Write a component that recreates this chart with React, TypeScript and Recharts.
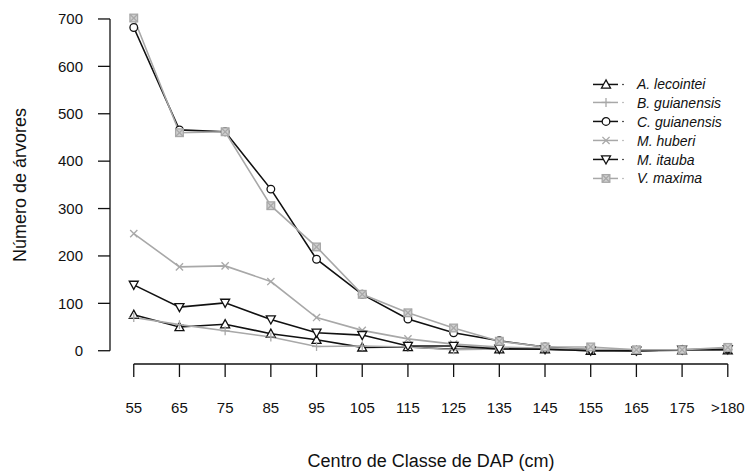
import { LineChart, Line, XAxis, YAxis, ReferenceLine, Legend, Label } from 'recharts';

const classes = ['55', '65', '75', '85', '95', '105', '115', '125', '135', '145', '155', '165', '175', '>180'];

const aLecointei = [76, 50, 56, 36, 23, 7, 8, 3, 3, 3, 0, 0, 1, 1];
const bGuianensis = [70, 55, 42, 29, 9, 10, 8, 2, 4, 3, 0, 0, 1, 2];
const cGuianensis = [682, 466, 462, 341, 193, 119, 67, 38, 21, 8, 2, 0, 2, 3];
const mHuberi = [247, 177, 179, 146, 70, 43, 25, 14, 8, 5, 3, 2, 2, 4];
const mItauba = [139, 92, 101, 66, 38, 33, 10, 10, 4, 3, 0, 0, 2, 3];
const vMaxima = [702, 460, 462, 306, 219, 119, 80, 48, 20, 8, 8, 2, 2, 7];

const yTicks = [0, 100, 200, 300, 400, 500, 600, 700];

const BLACK = '#111';
const GRAY = '#a8a8a8';
const FONT = '"Liberation Sans", Arial, sans-serif';

type Shape = 'triUp' | 'plus' | 'circle' | 'cross' | 'triDown' | 'boxX';

const series: { key: string; name: string; values: number[]; color: string; shape: Shape }[] = [
  { key: 'aLecointei', name: 'A. lecointei', values: aLecointei, color: BLACK, shape: 'triUp' },
  { key: 'bGuianensis', name: 'B. guianensis', values: bGuianensis, color: GRAY, shape: 'plus' },
  { key: 'cGuianensis', name: 'C. guianensis', values: cGuianensis, color: BLACK, shape: 'circle' },
  { key: 'mHuberi', name: 'M. huberi', values: mHuberi, color: GRAY, shape: 'cross' },
  { key: 'mItauba', name: 'M. itauba', values: mItauba, color: BLACK, shape: 'triDown' },
  { key: 'vMaxima', name: 'V. maxima', values: vMaxima, color: GRAY, shape: 'boxX' },
];

const data = classes.map((c, i) => {
  const row: Record<string, number | string> = { i, label: c };
  series.forEach(s => { row[s.key] = s.values[i]; });
  return row;
});

function Marker({ cx, cy, shape, color }: { cx: number; cy: number; shape: Shape; color: string }) {
  const r = 4.5;
  const sw = 1.3;
  switch (shape) {
    case 'triUp':
      return <polygon points={`${cx},${cy - r} ${cx - r},${cy + r * 0.8} ${cx + r},${cy + r * 0.8}`} fill="#fff" stroke={color} strokeWidth={sw} />;
    case 'triDown':
      return <polygon points={`${cx},${cy + r} ${cx - r},${cy - r * 0.8} ${cx + r},${cy - r * 0.8}`} fill="#fff" stroke={color} strokeWidth={sw} />;
    case 'circle':
      return <circle cx={cx} cy={cy} r={r * 0.85} fill="#fff" stroke={color} strokeWidth={sw} />;
    case 'plus':
      return (
        <g stroke={color} strokeWidth={sw}>
          <line x1={cx - r} y1={cy} x2={cx + r} y2={cy} />
          <line x1={cx} y1={cy - r} x2={cx} y2={cy + r} />
        </g>
      );
    case 'cross':
      return (
        <g stroke={color} strokeWidth={sw}>
          <line x1={cx - r * 0.8} y1={cy - r * 0.8} x2={cx + r * 0.8} y2={cy + r * 0.8} />
          <line x1={cx - r * 0.8} y1={cy + r * 0.8} x2={cx + r * 0.8} y2={cy - r * 0.8} />
        </g>
      );
    case 'boxX': {
      const h = r * 0.85;
      return (
        <g stroke={color} strokeWidth={sw}>
          <rect x={cx - h} y={cy - h} width={h * 2} height={h * 2} fill="#d0d0d0" />
          <line x1={cx - h} y1={cy - h} x2={cx + h} y2={cy + h} />
          <line x1={cx - h} y1={cy + h} x2={cx + h} y2={cy - h} />
        </g>
      );
    }
  }
  return null;
}

function LegendBox() {
  return (
    <div style={{ fontFamily: FONT, fontSize: 14, fontStyle: 'italic', color: '#111' }}>
      {series.map(s => (
        <div key={s.key} style={{ display: 'flex', alignItems: 'center', height: 18.9 }}>
          <svg width={47} height={18.9} style={{ display: 'block' }}>
            <line x1={3} y1={9.45} x2={28} y2={9.45} stroke={s.color} strokeWidth={1.5} />
            <Marker cx={16} cy={9.45} shape={s.shape} color={s.color} />
            <circle cx={33} cy={9.45} r={0.8} fill={s.color} />
          </svg>
          <span>{s.name}</span>
        </div>
      ))}
    </div>
  );
}

export default function App() {
  return (
    <div style={{ position: 'absolute', left: 0, top: 0, width: 746, height: 471, background: '#fff' }}>
      <LineChart width={746} height={471} data={data} margin={{ top: 5.7, right: 4.5, bottom: 47, left: 0 }}>
        <XAxis
          dataKey="i"
          type="number"
          domain={[-0.52, 13.3]}
          allowDataOverflow
          ticks={classes.map((_, i) => i)}
          interval={0}
          tickFormatter={(v: number) => classes[v] ?? ''}
          axisLine={false}
          tickLine={{ stroke: BLACK, strokeWidth: 1.3 }}
          tickSize={13}
          tickMargin={25}
          height={60}
          tick={{ fontSize: 15, fill: '#111', fontFamily: FONT }}
        >
          <Label
            content={() => (
              <text x={431} y={466.5} textAnchor="middle" fontSize={18} fontFamily={FONT} fill="#111">
                Centro de Classe de DAP (cm)
              </text>
            )}
          />
        </XAxis>
        <YAxis
          type="number"
          domain={[-28, 728]}
          allowDataOverflow
          ticks={yTicks}
          interval={0}
          width={110}
          axisLine={false}
          tickLine={{ stroke: BLACK, strokeWidth: 1.3 }}
          tickSize={12}
          tickMargin={15}
          tick={{ fontSize: 15, fill: '#111', fontFamily: FONT }}
        >
          <Label
            content={() => (
              <text
                x={20}
                y={185}
                transform="rotate(-90 20 185)"
                textAnchor="middle"
                dominantBaseline="central"
                fontSize={18}
                fontFamily={FONT}
                fill="#111"
              >
                Número de árvores
              </text>
            )}
          />
        </YAxis>
        <ReferenceLine
          segment={[{ x: 0, y: -28 }, { x: classes.length - 1, y: -28 }]}
          stroke={BLACK}
          strokeWidth={1.3}
          ifOverflow="visible"
        />
        <ReferenceLine
          segment={[{ x: -0.52, y: 0 }, { x: -0.52, y: 700 }]}
          stroke={BLACK}
          strokeWidth={1.3}
          ifOverflow="visible"
        />
        {series.map(s => (
          <Line
            key={s.key}
            dataKey={s.key}
            name={s.name}
            type="linear"
            stroke={s.color}
            strokeWidth={1.6}
            isAnimationActive={false}
            dot={(p: any) => (
              <Marker key={`${s.key}-${p.index}`} cx={p.cx} cy={p.cy} shape={s.shape} color={s.color} />
            )}
            activeDot={false}
          />
        ))}
        <Legend
          layout="vertical"
          align="center"
          verticalAlign="middle"
          content={() => <LegendBox />}
          wrapperStyle={{ position: 'absolute', left: 590, top: 74.5, width: 150 }}
        />
      </LineChart>
    </div>
  );
}
